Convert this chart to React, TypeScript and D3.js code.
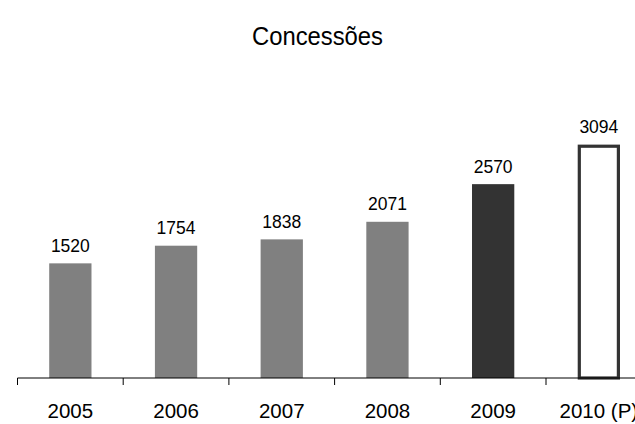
import React from "react";
import * as d3 from "d3";

const categories = ["2005", "2006", "2007", "2008", "2009", "2010 (P)"];
const values = [1520, 1754, 1838, 2071, 2570, 3094];
const title = "Concessões";

const W = 635;
const H = 424;
const left = 17.5;
const band = 105.7;
const baseY = 378;

export default function App() {
  const x = d3
    .scaleBand<string>()
    .domain(categories)
    .range([left, left + band * categories.length])
    .paddingInner(0.6)
    .paddingOuter(0.3);
  const y = d3.scaleLinear().domain([0, 3500]).range([baseY, 114]);
  const font = "'Liberation Sans', Arial, sans-serif";
  const ticks = d3.range(categories.length + 1).map((i) => left + i * band);
  return (
    <svg
      width={W}
      height={H}
      style={{ position: "absolute", left: 0, top: 0, background: "#fff" }}
      fontFamily={font}
    >
      <text
        x={317.5}
        y={45}
        textAnchor="middle"
        fontSize={26}
        textLength={131}
        lengthAdjust="spacingAndGlyphs"
        fill="#000"
      >
        {title}
      </text>
      {categories.map((c, i) => {
        const v = values[i];
        const bx = x(c)!;
        const bw = x.bandwidth();
        const top = y(v);
        const last = i === categories.length - 1;
        const dark = i === categories.length - 2;
        return (
          <g key={c}>
            {last ? (
              <rect
                x={bx + 1.6}
                y={top + 1.6}
                width={bw - 3.2}
                height={baseY - top - 1.6}
                fill="#fff"
                stroke="#333"
                strokeWidth={3.2}
              />
            ) : (
              <rect
                x={bx}
                y={top}
                width={bw}
                height={baseY - top}
                fill={dark ? "#333333" : "#808080"}
              />
            )}
            <text
              x={bx + bw / 2}
              y={top - 11.6}
              textAnchor="middle"
              fontSize={17.5}
              fill="#000"
            >
              {v}
            </text>
            <text
              x={bx + bw / 2}
              y={417.7}
              textAnchor="middle"
              fontSize={20.5}
              fill="#000"
            >
              {c}
            </text>
          </g>
        );
      })}
      <line x1={left} x2={W} y1={baseY} y2={baseY} stroke="#000" strokeWidth={1} />
      {ticks.map((t, i) => (
        <line key={i} x1={t} x2={t} y1={baseY} y2={baseY + 7} stroke="#000" strokeWidth={1} />
      ))}
    </svg>
  );
}
